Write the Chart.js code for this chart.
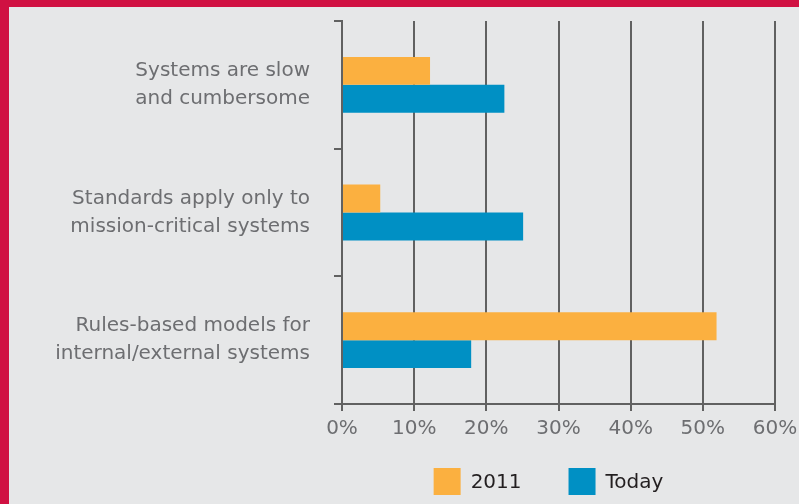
<!DOCTYPE html>
<html>
<head>
<meta charset="utf-8">
<script src="https://cdn.jsdelivr.net/npm/chart.js@4.4.0/dist/chart.umd.min.js"></script>
<style>
  html, body { margin: 0; padding: 0; overflow: hidden; background: #d01142; }
  #frame {
    position: absolute; left: 9px; top: 7px; width: 790px; height: 497px;
    background: #e6e7e8;
  }
  #chart { display: block; }
</style>
</head>
<body>
<div id="frame"><canvas id="chart" width="790" height="497"></canvas></div>
<script>
const categories = [
  ['Systems are slow', 'and cumbersome'],
  ['Standards apply only to', 'mission-critical systems'],
  ['Rules-based models for', 'internal/external systems']
];
const seriesNames = ['2011', 'Today'];
const values2011  = [12.2, 5.3, 51.9];
const valuesToday = [22.5, 25.1, 17.9];
const xTicks = [0, 10, 20, 30, 40, 50, 60];

const orange   = '#fbb040';
const blue     = '#0090c4';
const axisGray = '#616161';
const textGray = '#6d6e71';
const font     = 'DejaVu Sans';

// legend drawn under the plot, boxes with a wide gap between entries
const bottomLegend = {
  id: 'bottomLegend',
  afterDraw(chart) {
    const { ctx, chartArea } = chart;
    const box = 27, gap = 10, between = 47;
    ctx.save();
    ctx.font = '20px "' + font + '"';
    ctx.textBaseline = 'middle';
    const items = chart.data.datasets.map(d => ({
      text: d.label, color: d.backgroundColor,
      w: box + gap + ctx.measureText(d.label).width
    }));
    const total = items.reduce((s, it) => s + it.w, 0) + between * (items.length - 1);
    let x = (chartArea.left + chartArea.right) / 2 - 10 - total / 2;
    const y = chartArea.bottom + 64;
    items.forEach(it => {
      ctx.fillStyle = it.color;
      ctx.fillRect(x, y, box, box);
      ctx.fillStyle = '#231f20';
      ctx.fillText(it.text, x + box + gap, y + box / 2 + 1);
      x += it.w + between;
    });
    ctx.restore();
  }
};

new Chart(document.getElementById('chart'), {
  type: 'bar',
  data: {
    labels: categories,
    datasets: [
      { label: seriesNames[0], data: values2011,  backgroundColor: orange },
      { label: seriesNames[1], data: valuesToday, backgroundColor: blue }
    ]
  },
  options: {
    indexAxis: 'y',
    responsive: false,
    animation: false,
    categoryPercentage: 0.4375,
    barPercentage: 1,
    layout: { padding: { top: 14, right: 24, left: 0, bottom: 60 } },
    plugins: {
      tooltip: { enabled: false },
      legend: { display: false }
    },
    scales: {
      x: {
        min: 0, max: 60,
        afterBuildTicks: s => { s.ticks = xTicks.map(v => ({ value: v })); },
        afterFit: s => { s.height = 40; s.paddingLeft = 0; s.paddingRight = 0; },
        grid: { color: axisGray, lineWidth: 2, tickLength: 7, drawTicks: true },
        border: { color: axisGray, width: 2 },
        ticks: {
          color: textGray, padding: 6,
          font: { family: font, size: 20 },
          callback: v => v + '%'
        }
      },
      y: {
        afterFit: s => { s.width = 333; s.paddingTop = 0; s.paddingBottom = 0; },
        grid: { drawOnChartArea: false, color: axisGray, lineWidth: 2, tickLength: 8 },
        border: { color: axisGray, width: 2 },
        ticks: {
          color: textGray, padding: 24,
          font: { family: font, size: 20, lineHeight: 1.4 }
        }
      }
    }
  },
  plugins: [bottomLegend]
});
</script>
</body>
</html>
